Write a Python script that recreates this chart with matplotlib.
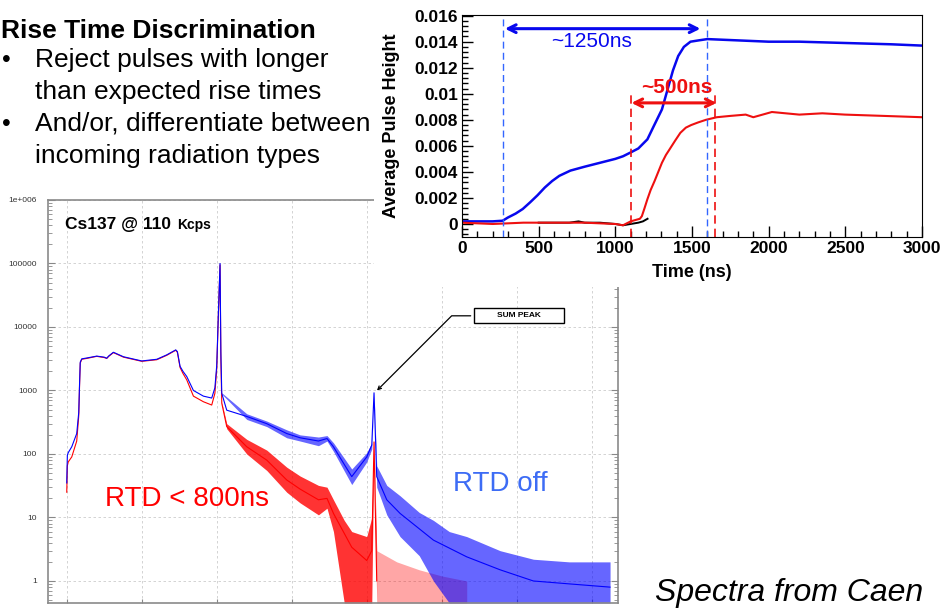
import matplotlib
matplotlib.use("Agg")
import matplotlib.pyplot as plt
from matplotlib.patches import Rectangle
from matplotlib.ticker import MultipleLocator, FixedLocator, LogLocator, NullFormatter, FuncFormatter

plt.rcParams['font.family'] = ['Liberation Sans', 'DejaVu Sans']

# ---- top chart: average pulse shapes (time in ns) ----
t_blue = [0, 100, 200, 265, 300, 350, 396, 444, 492, 540, 588, 635, 707, 800, 900,
          1000, 1050, 1101, 1150, 1209, 1250, 1304, 1340, 1376, 1410, 1447, 1490,
          1543, 1600, 1800, 2000, 2200, 2500, 2800, 3000]
v_blue = [0.0002, 0.0002, 0.0002, 0.00025, 0.0005, 0.0008, 0.00115, 0.00166, 0.0022,
          0.0028, 0.0033, 0.0037, 0.0041, 0.0044, 0.0047, 0.0050, 0.0052, 0.0055,
          0.0058, 0.0065, 0.0075, 0.0088, 0.0103, 0.0118, 0.0129, 0.0136, 0.0140,
          0.0141, 0.0142, 0.0141, 0.0140, 0.0140, 0.0139, 0.0138, 0.0137]
t_red = [0, 200, 400, 600, 800, 1000, 1050, 1100, 1130, 1160, 1173, 1190, 1209, 1230,
         1256, 1280, 1304, 1330, 1352, 1390, 1424, 1460, 1495, 1540, 1591, 1662, 1750,
         1850, 1900, 2021, 2200, 2350, 2498, 2750, 3000]
v_red = [0.0001, 0.0, 0.0001, 0.0001, 0.0001, 0.0, -0.0001, 0.0002, 0.0003, 0.0004,
         0.0006, 0.0012, 0.0019, 0.0026, 0.0033, 0.0040, 0.0047, 0.0053, 0.0057, 0.0064,
         0.0070, 0.0074, 0.0076, 0.0078, 0.0080, 0.0082, 0.0083, 0.0084, 0.0082, 0.0086,
         0.0084, 0.0085, 0.0084, 0.0083, 0.0082]
t_black = [500, 600, 700, 760, 800, 900, 1000, 1050, 1100, 1150, 1180, 1210]
v_black = [0.0001, 0.0001, 0.0001, 0.0002, 0.0001, 0.0001, 0.0, -0.0001, 0.0, 0.0001,
           0.0002, 0.0004]
blue_marks = [265, 1600]
red_marks = [1100, 1650]
x_ticks = [0, 500, 1000, 1500, 2000, 2500, 3000]
y_ticks = [0, 0.002, 0.004, 0.006, 0.008, 0.01, 0.012, 0.014, 0.016]

# ---- bottom chart: Cs137 spectra (channel, counts) ----
blue_ch = [0, 8, 20, 67, 133, 160, 170, 180, 200, 267, 400, 500, 533, 560, 622, 756,
           1000, 1200, 1333, 1453, 1475, 1511, 1550, 1600, 1689, 1822, 1933, 1975, 2000,
           2022, 2044, 2055, 2067, 2133, 2400, 2667, 2933, 3111, 3356, 3470, 3556, 3800,
           4000, 4067, 4097, 4133, 4267, 4444, 4889, 5333, 5778, 6222, 6700, 7244]
blue_cnt = [35, 95, 105, 130, 210, 450, 1200, 2800, 3150, 3250, 3480, 3350, 3220, 3500,
            4000, 3400, 2920, 3100, 3640, 4360, 4100, 2400, 2000, 1660, 1000, 815, 760,
            1100, 2500, 16600, 100000, 4000, 900, 490, 390, 300, 210, 180, 160, 175, 130,
            44, 90, 138, 920, 44, 19, 11.6, 4.4, 2.4, 1.5, 1.0, 0.9, 0.8]
blue_band_ch = [2067, 2400, 2667, 2933, 3111, 3356, 3470, 3556, 3800, 4000, 4067, 4097,
                4133, 4267, 4444, 4700, 4889, 5100, 5333, 5778, 6222, 6700, 7244]
blue_lo = [880, 350, 270, 180, 160, 135, 160, 110, 33, 75, 120, 900, 30, 11, 5, 2.5, 1,
           0.45, 0.45, 0.45, 0.45, 0.45, 0.45]
blue_hi = [920, 430, 330, 240, 200, 185, 195, 150, 58, 105, 150, 930, 65, 32, 22, 12, 9,
           6, 5, 3, 2.2, 2, 2]

red_ch = [0, 8, 20, 67, 133, 160, 170, 180, 200, 267, 400, 500, 533, 560, 622, 756,
          1000, 1200, 1333, 1453, 1475, 1511, 1550, 1600, 1689, 1822, 1933, 1975, 2000,
          2022, 2044, 2055, 2067, 2133, 2400, 2667, 2933, 3111, 3356, 3470, 3556, 3800,
          4000, 4067, 4097, 4133]
red_cnt = [25, 65, 75, 90, 160, 400, 1100, 2700, 3100, 3200, 3450, 3300, 3200, 3450,
           3950, 3350, 2880, 3050, 3580, 4300, 4000, 2300, 1850, 1470, 815, 665, 590, 900,
           2200, 16000, 95000, 3000, 630, 270, 130, 80, 39, 28, 19, 20, 11.6, 3.4, 2.1, 3,
           155, 1]
red_band_ch = [2067, 2133, 2400, 2667, 2933, 3111, 3356, 3470, 3556, 3700, 3800, 4000,
               4067, 4097, 4133]
red_lo = [610, 250, 100, 55, 25, 17, 11, 14, 6, 0.45, 0.45, 0.45, 0.45, 150, 0.45]
red_hi = [650, 300, 170, 115, 62, 45, 32, 30, 19, 9, 6, 5, 10, 160, 3]
# sparse zero/one-count region after the sum peak
red_sparse_ch = [4133, 4400, 4700, 5000, 5333]
red_sparse_hi = [3, 2, 1.5, 1.2, 1]

count_ticks = [1, 10, 100, 1000, 10000, 100000, 1000000]

W, H = 945, 608
fig = plt.figure(figsize=(W / 100, H / 100), dpi=100)


def fx(x):
    return x / W


def fy(y):
    return 1 - y / H


# spectrum panel
ax2 = fig.add_axes([fx(48), fy(603), (618 - 48) / W, (603 - 200) / H])
ax2.set_yscale('log')
ax2.fill_between(red_band_ch, red_lo, red_hi, color='#ff0000', alpha=0.8, lw=0)
ax2.fill_between(red_sparse_ch, 0.45, red_sparse_hi, color='#ff0000', alpha=0.35, lw=0)
ax2.plot(red_ch, red_cnt, color='#ff0000', lw=0.8)
ax2.fill_between(blue_band_ch, blue_lo, blue_hi, color='#0000ff', alpha=0.6, lw=0)
ax2.plot(blue_ch, blue_cnt, color='#0000ff', lw=0.8)
ax2.set_xlim(-250, 7350)
ax2.set_ylim(0.45, 1e6)
ax2.xaxis.set_major_locator(MultipleLocator(1000))
ax2.yaxis.set_major_locator(FixedLocator(count_ticks))
ax2.yaxis.set_minor_locator(LogLocator(base=10, subs=range(2, 10), numticks=20))
ax2.yaxis.set_minor_formatter(NullFormatter())
ax2.yaxis.set_major_formatter(FuncFormatter(lambda v, p: '1e+006' if v >= 1e6 else '%d' % v))
ax2.tick_params(axis='x', which='both', direction='in', length=3, color='#888888',
                labelbottom=False)
ax2.tick_params(axis='y', which='major', direction='in', length=5, color='#888888',
                right=True, labelsize=6, labelcolor='#333333', pad=8)
ax2.tick_params(axis='y', which='minor', direction='in', length=3, color='#888888',
                right=True)
ax2.grid(True, which='major', color='#cccccc', ls=(0, (3, 3)), lw=0.6)
ax2.set_axisbelow(True)
for s in ax2.spines.values():
    s.set_color('#8a8a8a')
    s.set_linewidth(1.2)
ax2.annotate('        SUM PEAK        ', xy=(4110, 930), xytext=(6031, 15000),
             fontsize=6, fontweight='bold', ha='center', va='center',
             bbox=dict(boxstyle='square,pad=0.5', fc='white', ec='black', lw=1),
             arrowprops=dict(arrowstyle='->', color='black', lw=0.9,
                             connectionstyle='angle,angleA=0,angleB=45,rad=0'))

# white cover where the pulse-shape plot sits on the slide
fig.patches.append(Rectangle((fx(374), fy(287)), 1 - fx(374), 287 / H,
                             transform=fig.transFigure, fc='white', ec='none', zorder=2))

# pulse shape panel
ax1 = fig.add_axes([fx(462), fy(237), 460 / W, 222 / H])
ax1.set_zorder(3)
ax1.plot(t_blue, v_blue, color='#0808ee', lw=1.8)
ax1.plot(t_black, v_black, color='black', lw=1.4)
ax1.plot(t_red, v_red, color='#ee1010', lw=1.5)
for t in blue_marks:
    ax1.axvline(t, color='#3366ff', ls=(0, (5, 3)), lw=1)
ax1.vlines(red_marks, -0.001, 0.0099, colors='#ee1010', linestyles=(0, (5, 3)), lw=1.2)
ax1.annotate('', xy=(1555, 0.0150), xytext=(280, 0.0150),
             arrowprops=dict(arrowstyle='<->', color='#0808ee', lw=2.2,
                             mutation_scale=14, shrinkA=0, shrinkB=0))
ax1.annotate('', xy=(1660, 0.0093), xytext=(1105, 0.0093),
             arrowprops=dict(arrowstyle='<->', color='#ee1010', lw=2.2,
                             mutation_scale=14, shrinkA=0, shrinkB=0))
ax1.text(845, 0.0140, '~1250ns', color='#0808ee', fontsize=15, ha='center', va='center')
ax1.text(1400, 0.01045, '~500ns', color='#ee1010', fontsize=15, fontweight='bold',
         ha='center', va='center')
ax1.set_xlim(0, 3000)
ax1.set_ylim(-0.001, 0.01605)
ax1.set_xticks(x_ticks)
ax1.set_xticklabels([str(v) for v in x_ticks], fontweight='bold')
ax1.set_yticks(y_ticks)
ax1.set_yticklabels(['%g' % v for v in y_ticks], fontweight='bold')
ax1.xaxis.set_minor_locator(MultipleLocator(100))
ax1.yaxis.set_minor_locator(MultipleLocator(0.0004))
ax1.tick_params(which='major', direction='in', length=8, width=1, labelsize=12.5, pad=3)
ax1.tick_params(which='minor', direction='in', length=4, width=1)
ax1.set_xlabel('Time (ns)', fontsize=13, fontweight='bold')
ax1.set_ylabel('Average Pulse Height', fontsize=13, fontweight='bold')
ax1.xaxis.set_label_coords(0.5, -0.12)
ax1.yaxis.set_label_coords(-0.135, 0.5)

# slide text
fig.text(fx(1), fy(38), 'Rise Time Discrimination', fontsize=19, fontweight='bold',
         va='baseline')
bullets = [('•', 'Reject pulses with longer', 67), ('', 'than expected rise times', 99),
           ('•', 'And/or, differentiate between', 131), ('', 'incoming radiation types', 163)]
for b, line, y in bullets:
    if b:
        fig.text(fx(2), fy(y), b, fontsize=18, va='baseline')
    fig.text(fx(35), fy(y), line, fontsize=19, va='baseline')
fig.text(fx(65), fy(229), 'Cs137 @ 110', fontsize=12.5, fontweight='bold', va='baseline')
fig.text(fx(177), fy(229), 'Kcps', fontsize=10, fontweight='bold', va='baseline')
fig.text(fx(105), fy(506), 'RTD < 800ns', fontsize=20, color='#ff0000', va='baseline')
fig.text(fx(453), fy(491), 'RTD off', fontsize=20, color='#3d6cf5', va='baseline')
fig.text(fx(655), fy(601), 'Spectra from Caen', fontsize=23, style='italic',
         va='baseline')

fig.savefig('out.png', dpi=100)
